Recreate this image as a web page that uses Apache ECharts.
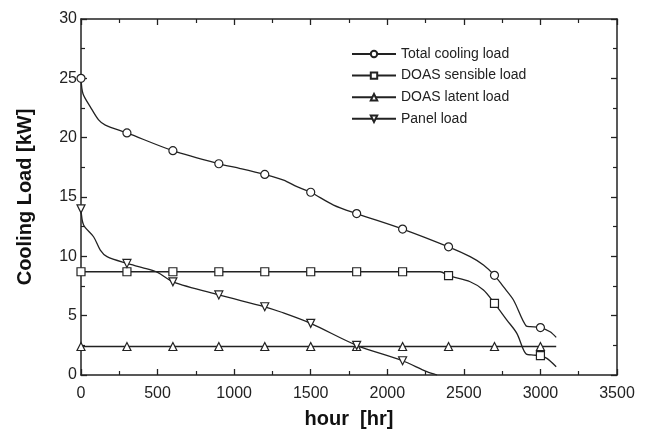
<!DOCTYPE html>
<html>
<head>
<meta charset="utf-8">
<script src="https://cdn.jsdelivr.net/npm/echarts@6/dist/echarts.min.js"></script>
<style>html,body{margin:0;padding:0;background:#fff}#c{width:645px;height:431px}</style>
</head>
<body>
<div id="c"></div>
<script>
// Marker hours (every 300 h)
const markerHours = [0, 300, 600, 900, 1200, 1500, 1800, 2100, 2400, 2700, 3000];

// Total cooling load
const totalMarks = [25.0, 20.4, 18.9, 17.8, 16.9, 15.4, 13.6, 12.3, 10.8, 8.4, 4.0];
const totalCurveX = [13, 61, 115, 159, 1040, 1323, 1410, 1649, 2541, 2628, 2758, 2824, 2907, 2933, 3063, 3103];
const totalCurveY = [23.7, 22.6, 21.5, 21.06, 17.4, 16.43, 15.87, 14.32, 9.97, 9.27, 7.44, 6.32, 4.13, 4.07, 3.65, 3.17];

// DOAS sensible load
const sensibleMarks = [8.7, 8.7, 8.7, 8.7, 8.7, 8.7, 8.7, 8.7, 8.37, 6.04, 1.63];
const sensibleCurveX = [2345, 2541, 2628, 2781, 2846, 2907, 2955, 3042, 3103];
const sensibleCurveY = [8.7, 7.86, 7.16, 4.63, 3.51, 1.77, 1.68, 1.4, 0.7];

// DOAS latent load
const latentMarks = [2.4, 2.4, 2.4, 2.4, 2.4, 2.4, 2.4, 2.4, 2.4, 2.4, 2.4];
const latentCurveX = [3103];
const latentCurveY = [2.4];

// Panel load (markers up to 2100 h)
const panelMarks = [14.0, 9.4, 7.85, 6.75, 5.75, 4.35, 2.5, 1.2];
const panelCurveX = [17, 82, 126, 170, 400, 500, 1300, 2258, 2325];
const panelCurveY = [12.64, 11.65, 10.53, 9.97, 9.05, 8.65, 5.33, 0.28, 0.0];

const xTicks = { min: 0, max: 3500, interval: 500 };
const yTicks = { min: 0, max: 30, interval: 5 };

function build(marks, cx, cy) {
  const pts = [];
  marks.forEach((v, i) => pts.push({ value: [markerHours[i], v] }));
  cx.forEach((x, i) => pts.push({ value: [x, cy[i]], symbol: 'none' }));
  pts.sort((a, b) => a.value[0] - b.value[0]);
  return pts;
}

const black = '#222';
function lineSeries(name, data, symbol, size, rotate) {
  return {
    name: name, type: 'line', data: data, smooth: 0.3,
    symbol: symbol, symbolSize: size, symbolRotate: rotate || 0,
    showAllSymbol: true,
    lineStyle: { color: black, width: 1.3 },
    itemStyle: { color: '#fff', borderColor: black, borderWidth: 1.2 },
    emphasis: { disabled: true }, z: 3
  };
}

const font = 'Liberation Sans, Arial';
const axisLineStyle = { onZero: false, lineStyle: { color: black, width: 1.5 } };
const tick = { inside: true, length: 6, lineStyle: { color: black, width: 1.3 } };
const minor = { show: true, splitNumber: 2, length: 4, lineStyle: { color: black, width: 1.2 } };
const chart = echarts.init(document.getElementById('c'), null, { renderer: 'canvas' });
chart.setOption({
  animation: false,
  backgroundColor: '#fff',
  grid: { left: 81, right: 28, top: 19, bottom: 56, containLabel: false, outerBoundsMode: 'none' },
  legend: {
    orient: 'vertical', left: 351, top: 47, itemGap: 7.6, padding: 0,
    itemWidth: 44, itemHeight: 8,
    textStyle: { fontFamily: font, fontSize: 14, color: '#222' },
    data: ['Total cooling load', 'DOAS sensible load', 'DOAS latent load', 'Panel load']
  },
  xAxis: [
    {
      type: 'value', position: 'bottom', min: xTicks.min, max: xTicks.max, interval: xTicks.interval,
      axisLine: axisLineStyle, axisTick: tick, minorTick: minor,
      splitLine: { show: false }, minorSplitLine: { show: false },
      axisLabel: { fontFamily: font, fontSize: 16, color: '#222', margin: 11, formatter: v => String(v) },
      name: 'hour  [hr]', nameLocation: 'middle', nameGap: 34,
      nameTextStyle: { fontFamily: font, fontSize: 20, fontWeight: 'bold', color: '#111' }
    },
    {
      type: 'value', position: 'top', min: xTicks.min, max: xTicks.max, interval: xTicks.interval,
      axisLine: axisLineStyle, axisTick: tick, minorTick: minor,
      splitLine: { show: false }, axisLabel: { show: false }
    }
  ],
  yAxis: [
    {
      type: 'value', position: 'left', min: yTicks.min, max: yTicks.max, interval: yTicks.interval,
      axisLine: axisLineStyle, axisTick: tick, minorTick: minor,
      splitLine: { show: false },
      axisLabel: { fontFamily: font, fontSize: 16, color: '#222', margin: 4, formatter: v => String(v) },
      name: 'Cooling Load [kW]', nameLocation: 'middle', nameGap: 46, nameRotate: 90,
      nameTextStyle: { fontFamily: font, fontSize: 20, fontWeight: 'bold', color: '#111' }
    },
    {
      type: 'value', position: 'right', min: yTicks.min, max: yTicks.max, interval: yTicks.interval,
      axisLine: axisLineStyle, axisTick: tick, minorTick: minor,
      splitLine: { show: false }, axisLabel: { show: false }
    }
  ],
  series: [
    lineSeries('Total cooling load', build(totalMarks, totalCurveX, totalCurveY), 'circle', 8),
    lineSeries('DOAS sensible load', build(sensibleMarks, sensibleCurveX, sensibleCurveY), 'rect', 8),
    lineSeries('DOAS latent load', build(latentMarks, latentCurveX, latentCurveY), 'triangle', 8),
    lineSeries('Panel load', build(panelMarks, panelCurveX, panelCurveY), 'triangle', 8, 180)
  ]
});
</script>
</body>
</html>
